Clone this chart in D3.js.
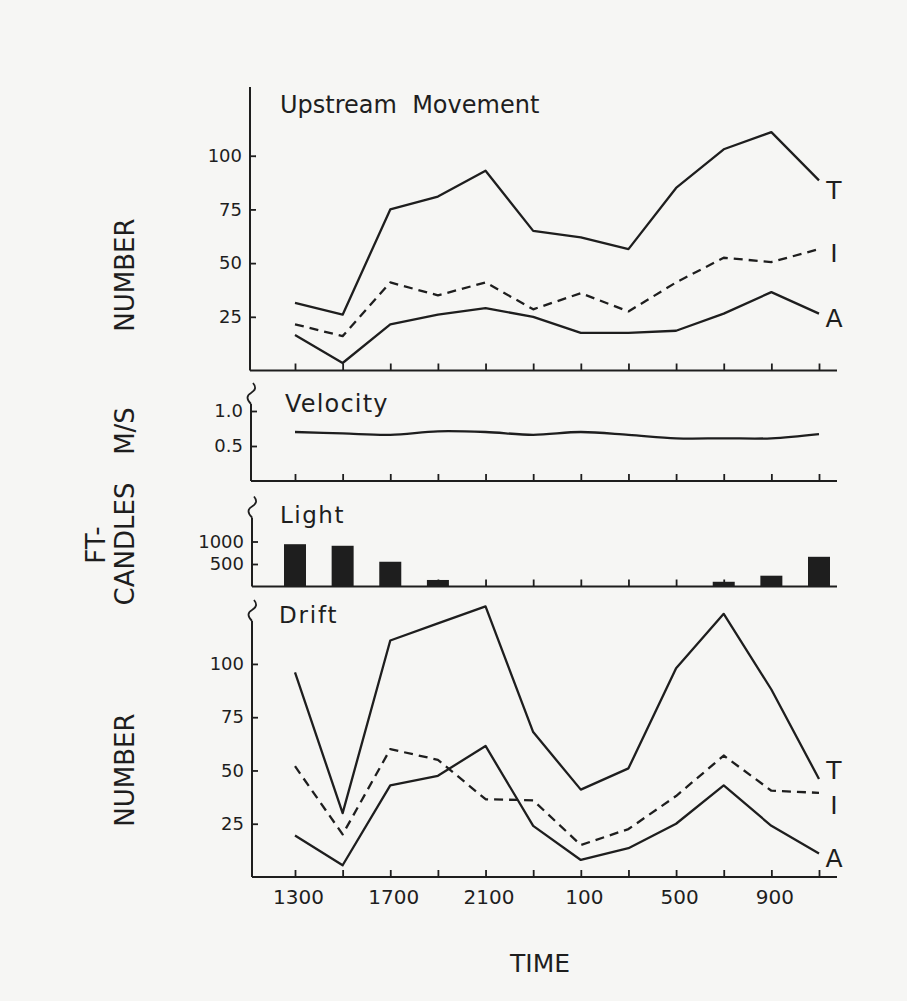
<!DOCTYPE html>
<html><head><meta charset="utf-8">
<script src="https://cdn.jsdelivr.net/npm/d3@7"></script>
<style>body{margin:0;background:#f6f6f4}</style>
</head><body><svg id="c" width="907" height="1001"></svg>
<script>
// ---------- data ----------
const times = ["1300","1500","1700","1900","2100","2300","100","300","500","700","900","1100"];
const timeTickLabels = ["1300","1700","2100","100","500","900"];
const upT = [31.5,26,75,81,93,65,62,56.5,85,103,111,88.5];
const upI = [21.5,16,41,35,41,28.5,36,27.5,41,52.5,50.5,56.5];
const upA = [16.5,3.5,21.5,26,29,25,17.5,17.5,18.5,26.5,36.5,26.5];
const velocity = [0.70,0.68,0.66,0.71,0.70,0.66,0.70,0.66,0.61,0.61,0.61,0.67];
const light = [940,905,550,145,0,0,0,0,0,105,240,660];
const driftT = [96,30,111,119,127,68,41,51,98,123.5,88,46];
const driftI = [52,20,60,55,36.5,36,15,22.5,38,57,40.5,39.5];
const driftA = [19.5,5.5,43,47.5,61.5,24,8,13.5,25,43,24,11];
const countTicks = [25,50,75,100];
const velocityTicks = [0.5,1.0];
const lightTicks = [500,1000];
const seriesNames = ["T","I","A"];

// ---------- drawing ----------
const ink = "#1e1e1e";
const font = "DejaVu Sans, sans-serif";
const svg = d3.select("#c");
svg.append("rect").attr("width",907).attr("height",1001).attr("fill","#f6f6f4");

const x = d3.scalePoint().domain(times).range([295, 819]);
const xEnd = 837;

const yUp = d3.scaleLinear().domain([0,132]).range([370.5,87]);
const yVel = d3.scaleLinear().domain([0,1.4]).range([481,383]);
const yLight = d3.scaleLinear().domain([0,2000]).range([586.5,496.5]);
const yDrift = d3.scaleLinear().domain([0,130]).range([877,600]);

function brace(g, ax, yTop){
  g.append("path")
    .attr("d", `M${ax+2},${yTop} Q${ax+7},${yTop+6} ${ax},${yTop+10} Q${ax-7},${yTop+14} ${ax},${yTop+21}`)
    .attr("fill","none").attr("stroke",ink).attr("stroke-width",1.8);
}

function panel(y, ax, ticks, fmt, hasBrace, bottom){
  const g = svg.append("g");
  const [y0, y1] = y.range();
  g.append("line").attr("x1",ax).attr("x2",ax)
    .attr("y1", hasBrace ? y1+21 : y1).attr("y2",y0)
    .attr("stroke",ink).attr("stroke-width",2);
  if (hasBrace) brace(g, ax, y1);
  g.append("line").attr("x1",ax).attr("x2",xEnd).attr("y1",y0).attr("y2",y0)
    .attr("stroke",ink).attr("stroke-width",2.2);
  const ya = d3.axisLeft(y).tickValues(ticks).tickFormat(fmt)
    .tickSizeInner(-6).tickSizeOuter(0).tickPadding(8);
  const gy = g.append("g").attr("transform",`translate(${ax},0)`).call(ya);
  gy.select(".domain").remove();
  gy.selectAll("line").attr("stroke",ink).attr("stroke-width",1.8);
  gy.selectAll("text").attr("font-family",font).attr("font-size",18).attr("fill",ink);
  const xa = d3.axisBottom(x).tickSizeInner(-7).tickSizeOuter(0).tickPadding(13)
    .tickFormat(d => bottom && timeTickLabels.includes(d) ? d : "");
  const gx = g.append("g").attr("transform",`translate(0,${y0})`).call(xa);
  gx.select(".domain").remove();
  gx.selectAll("line").attr("stroke",ink).attr("stroke-width",1.8);
  gx.selectAll("text").attr("font-family",font).attr("font-size",20).attr("fill",ink).attr("dx",3);
  return g;
}

function lines(g, y, series, dashes){
  const line = d3.line().x((d,i)=>x(times[i])).y(d=>y(d));
  series.forEach((s,k)=>{
    g.append("path").datum(s).attr("d",line)
      .attr("fill","none").attr("stroke",ink).attr("stroke-width",2.3)
      .attr("stroke-linejoin","round")
      .attr("stroke-dasharray", dashes[k] ? "9,6" : null);
  });
}

function title(txt, tx, ty, size, ls){
  svg.append("text").attr("x",tx).attr("y",ty).text(txt)
    .attr("font-family",font).attr("font-size",size).attr("fill",ink)
    .attr("letter-spacing",ls||0).style("white-space","pre");
}

// Upstream
const gUp = panel(yUp, 250, countTicks, d3.format("d"), false, false);
lines(gUp, yUp, [upT, upI, upA], [false,true,false]);
title("Upstream  Movement", 280, 113, 24, 0);
[190, 253, 318].forEach((ly,i)=>{
  svg.append("text").attr("x",834).attr("y",ly+9).attr("text-anchor","middle")
    .attr("font-family",font).attr("font-size",25).attr("fill",ink).text(seriesNames[i]);
});

// Velocity
const gVel = panel(yVel, 251, velocityTicks, d3.format(".1f"), true, false);
gVel.append("path").datum(velocity)
  .attr("d", d3.line().x((d,i)=>x(times[i])).y(d=>yVel(d)).curve(d3.curveCatmullRom))
  .attr("fill","none").attr("stroke",ink).attr("stroke-width",2.3);
title("Velocity", 285, 412, 24, 1.2);

// Light
const gLight = panel(yLight, 252, lightTicks, d3.format("d"), true, false);
gLight.selectAll("rect.bar").data(light).enter().append("rect")
  .attr("x",(d,i)=>x(times[i])-11).attr("width",22)
  .attr("y",d=>yLight(d)).attr("height",d=>yLight(0)-yLight(d))
  .attr("fill",ink);
title("Light", 280, 523, 23, 1.5);

// Drift
const gDrift = panel(yDrift, 252, countTicks, d3.format("d"), true, true);
lines(gDrift, yDrift, [driftT, driftI, driftA], [false,true,false]);
title("Drift", 279, 623, 23, 1.8);
[770, 805, 858].forEach((ly,i)=>{
  svg.append("text").attr("x",834).attr("y",ly+9).attr("text-anchor","middle")
    .attr("font-family",font).attr("font-size",25).attr("fill",ink).text(seriesNames[i]);
});

// vertical axis titles
function vtext(txt, cx, cy, size){
  svg.append("text").attr("transform",`translate(${cx},${cy}) rotate(-90)`)
    .attr("text-anchor","middle").attr("dominant-baseline","central")
    .attr("font-family",font).attr("font-size",size).attr("fill",ink).text(txt);
}
vtext("NUMBER", 125, 275, 26);
vtext("M/S", 125, 431, 26);
vtext("CANDLES", 125, 544, 26);
vtext("FT-", 96, 545, 26);
vtext("NUMBER", 125, 770, 26);

// TIME
svg.append("text").attr("x",540).attr("y",972).attr("text-anchor","middle")
  .attr("font-family",font).attr("font-size",25).attr("fill",ink).text("TIME");
</script></body></html>
